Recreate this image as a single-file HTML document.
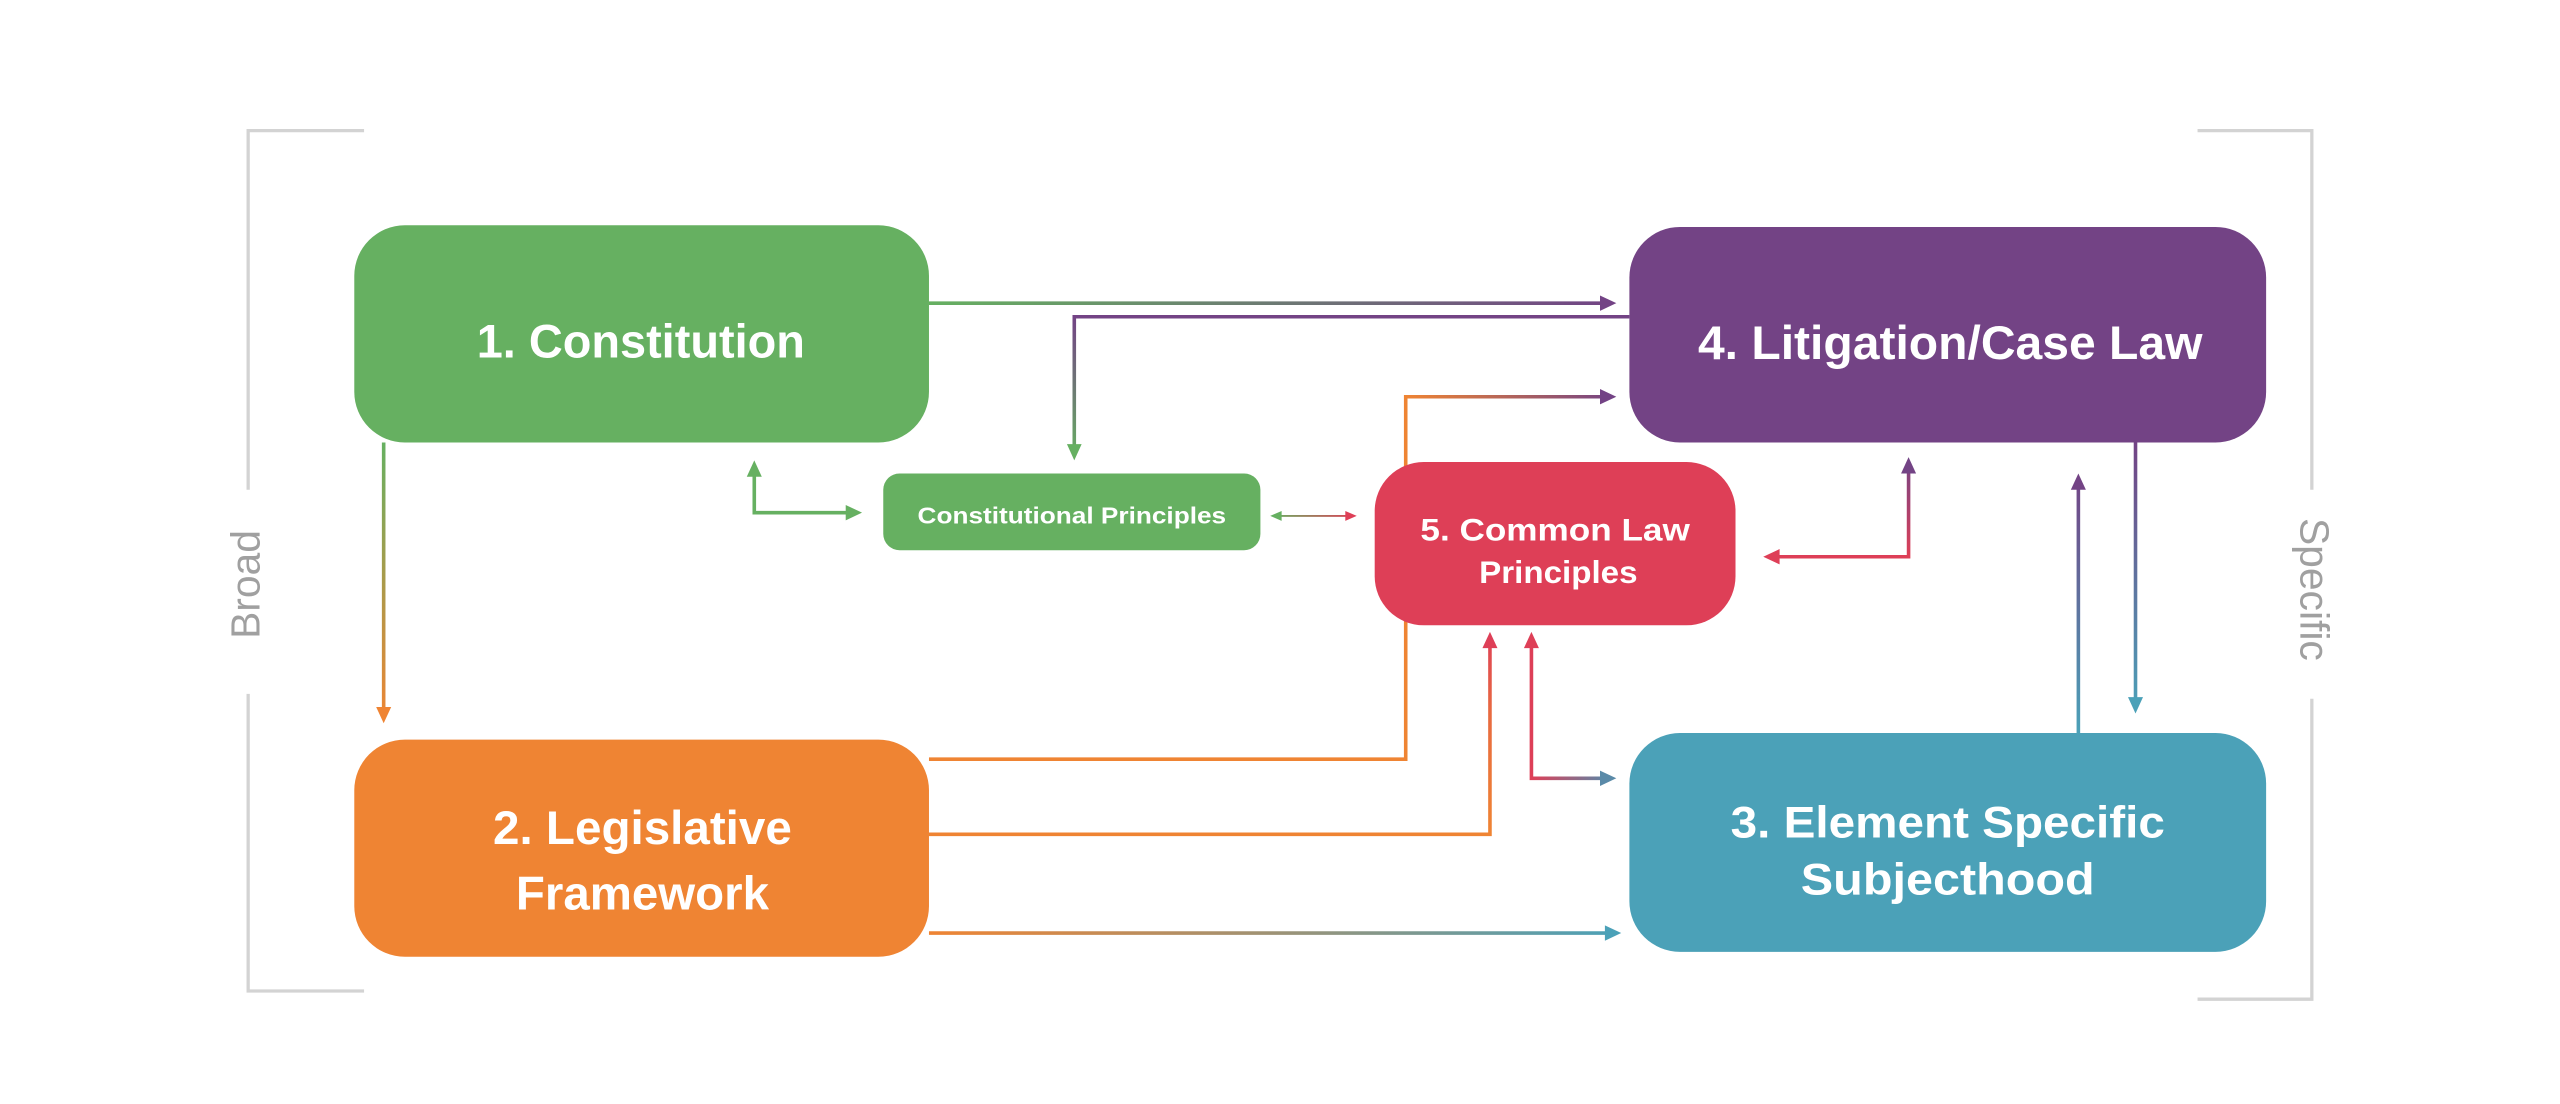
<!DOCTYPE html>
<html><head><meta charset="utf-8"><style>
html,body{margin:0;padding:0;background:#fff;}
svg{display:block;}
text{font-family:"Liberation Sans",sans-serif;font-weight:bold;fill:#fff;}
</style></head><body>
<svg width="2560" height="1104" viewBox="0 0 1568 676.2" xmlns="http://www.w3.org/2000/svg">
<defs>
<linearGradient id="g1" gradientUnits="userSpaceOnUse" x1="569" y1="0" x2="990" y2="0"><stop offset="0" stop-color="#66b061"/><stop offset="1" stop-color="#734385"/></linearGradient>
<linearGradient id="g2" gradientUnits="userSpaceOnUse" x1="0" y1="194" x2="0" y2="282"><stop offset="0" stop-color="#734385"/><stop offset="1" stop-color="#66b061"/></linearGradient>
<linearGradient id="g3" gradientUnits="userSpaceOnUse" x1="861" y1="0" x2="990" y2="0"><stop offset="0" stop-color="#ef8433"/><stop offset="1" stop-color="#734385"/></linearGradient>
<linearGradient id="g4" gradientUnits="userSpaceOnUse" x1="0" y1="511" x2="0" y2="387"><stop offset="0" stop-color="#ef8433"/><stop offset="0.6" stop-color="#e86a40"/><stop offset="1" stop-color="#de3f57"/></linearGradient>
<linearGradient id="g5" gradientUnits="userSpaceOnUse" x1="569" y1="0" x2="993" y2="0"><stop offset="0" stop-color="#ef8433"/><stop offset="1" stop-color="#4ba1b8"/></linearGradient>
<linearGradient id="g6" gradientUnits="userSpaceOnUse" x1="938" y1="0" x2="990" y2="0"><stop offset="0" stop-color="#de3f57"/><stop offset="1" stop-color="#4b8fb0"/></linearGradient>
<linearGradient id="g8" gradientUnits="userSpaceOnUse" x1="778" y1="0" x2="831" y2="0"><stop offset="0" stop-color="#66b061"/><stop offset="1" stop-color="#de3f57"/></linearGradient>
<linearGradient id="g9" gradientUnits="userSpaceOnUse" x1="0" y1="341" x2="0" y2="280"><stop offset="0" stop-color="#de3f57"/><stop offset="1" stop-color="#734385"/></linearGradient>
<linearGradient id="g10" gradientUnits="userSpaceOnUse" x1="0" y1="271" x2="0" y2="437"><stop offset="0" stop-color="#734385"/><stop offset="1" stop-color="#4ba1b8"/></linearGradient>
<linearGradient id="g11" gradientUnits="userSpaceOnUse" x1="0" y1="449" x2="0" y2="290"><stop offset="0" stop-color="#4ba1b8"/><stop offset="1" stop-color="#734385"/></linearGradient>
<linearGradient id="g12" gradientUnits="userSpaceOnUse" x1="0" y1="271" x2="0" y2="443"><stop offset="0" stop-color="#66b061"/><stop offset="1" stop-color="#ef8433"/></linearGradient>
</defs>

<g stroke="#d3d3d3" stroke-width="2" fill="none">
<path d="M223,80 H152 V300"/><path d="M152,425 V607 H223"/>
<path d="M1346,80 H1416 V300"/><path d="M1416,428 V612 H1346"/>
</g>
<text transform="translate(159,358) rotate(-90)" text-anchor="middle" font-size="25" style="fill:#a0a0a0;font-weight:normal">Broad</text>
<text transform="translate(1409,361) rotate(90)" text-anchor="middle" font-size="25" style="fill:#a0a0a0;font-weight:normal">Specific</text>

<g fill="none" stroke-width="2.2">
<path d="M569,185.7 H981" stroke="url(#g1)"/>
<path d="M998,194 H658 V273" stroke="url(#g2)"/>
<path d="M569,465 H861 V243 H981" stroke="url(#g3)"/>
<path d="M569,511 H912.6 V396" stroke="url(#g4)"/>
<path d="M569,571.5 H984" stroke="url(#g5)"/>
<path d="M938,396 V476.7 H981" stroke="url(#g6)"/>
<path d="M462,291 V314 H519" stroke="#66b061"/>
<path d="M784,316 H825" stroke="url(#g8)" stroke-width="1.2"/>
<path d="M1089,341 H1169 V289" stroke="url(#g9)"/>
<path d="M1308,271 V428" stroke="url(#g10)"/>
<path d="M1273,449 V299" stroke="url(#g11)"/>
<path d="M235,271 V434" stroke="url(#g12)"/>
</g>
<polygon points="990,185.7 980,181 980,190.4" fill="#734385"/>
<polygon points="658,282 653.5,272 662.5,272" fill="#66b061"/>
<polygon points="990,243 980,238.3 980,247.7" fill="#734385"/>
<polygon points="912.6,387 908,397 917.2,397" fill="#de3f57"/>
<polygon points="993,571.5 983,566.8 983,576.2" fill="#4ba1b8"/>
<polygon points="938,387 933.4,397 942.6,397" fill="#de3f57"/>
<polygon points="990,476.7 980,472 980,481.4" fill="#5a8aa8"/>
<polygon points="462,282 457.4,292 466.6,292" fill="#66b061"/>
<polygon points="528,314 518,309.3 518,318.7" fill="#66b061"/>
<polygon points="778,316 785,313 785,319" fill="#66b061"/>
<polygon points="831,316 824,313 824,319" fill="#de3f57"/>
<polygon points="1080,341 1090,336.3 1090,345.7" fill="#de3f57"/>
<polygon points="1169,280 1164.4,290 1173.6,290" fill="#734385"/>
<polygon points="1308,437 1303.4,427 1312.6,427" fill="#4ba1b8"/>
<polygon points="1273,290 1268.4,300 1277.6,300" fill="#734385"/>
<polygon points="235,443 230.4,433 239.6,433" fill="#ef8433"/>

<rect x="217" y="138" width="352" height="133" rx="31" fill="#66b061"/>
<rect x="998" y="139" width="390" height="132" rx="31" fill="#734385"/>
<rect x="217" y="453" width="352" height="133" rx="31" fill="#ef8433"/>
<rect x="998" y="449" width="390" height="134" rx="31" fill="#4ba1b8"/>
<rect x="842" y="283" width="221" height="100" rx="30" fill="#de3f57"/>
<rect x="541" y="290" width="231" height="47" rx="10" fill="#66b061"/>

<text x="292" y="219" font-size="29" textLength="201" lengthAdjust="spacingAndGlyphs">1. Constitution</text>
<text x="1040" y="220" font-size="29" textLength="309" lengthAdjust="spacingAndGlyphs">4. Litigation/Case Law</text>
<text x="302" y="517" font-size="29" textLength="183" lengthAdjust="spacingAndGlyphs">2. Legislative</text>
<text x="316" y="557" font-size="29" textLength="155" lengthAdjust="spacingAndGlyphs">Framework</text>
<text x="1060" y="513" font-size="27" textLength="266" lengthAdjust="spacingAndGlyphs">3. Element Specific</text>
<text x="1103" y="548" font-size="27" textLength="180" lengthAdjust="spacingAndGlyphs">Subjecthood</text>
<text x="870" y="331" font-size="19.5" textLength="165" lengthAdjust="spacingAndGlyphs">5. Common Law</text>
<text x="906" y="357" font-size="19.5" textLength="97" lengthAdjust="spacingAndGlyphs">Principles</text>
<text x="562" y="320.5" font-size="14" textLength="189" lengthAdjust="spacingAndGlyphs">Constitutional Principles</text>
</svg>
</body></html>
